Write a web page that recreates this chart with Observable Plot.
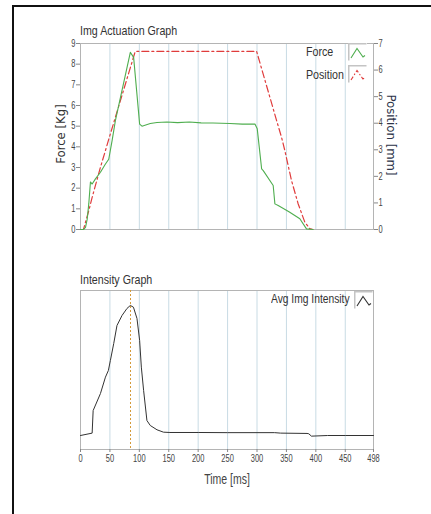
<!DOCTYPE html>
<html>
<head>
<meta charset="utf-8">
<script src="https://cdn.jsdelivr.net/npm/d3@7"></script>
<script src="https://cdn.jsdelivr.net/npm/@observablehq/plot@0.6"></script>
<style>
  html, body { margin: 0; padding: 0; background: #fff; }
  #root { position: relative; width: 431px; height: 514px; overflow: hidden; background: #fff; color: #333; }
  .narrow { position: absolute; white-space: nowrap; font-family: "Liberation Sans", Arial, sans-serif;
    transform-origin: 0 50%; transform: scaleX(0.82); line-height: 14px; }
  .rot { position: absolute; white-space: nowrap; font-family: "DejaVu Sans Condensed", "DejaVu Sans", sans-serif; font-stretch: condensed;
    transform: translate(-50%, -50%) rotate(-90deg); line-height: 14px; }
  .rot90 { position: absolute; white-space: nowrap; font-family: "DejaVu Sans Condensed", "DejaVu Sans", sans-serif; font-stretch: condensed;
    transform: translate(-50%, -50%) rotate(90deg); line-height: 14px; }
  .icon { position: absolute; }
</style>
</head>
<body>
<div id="root"></div>
<script>
// ---- Data ----
const forceT  = [0, 5, 8.5, 11.4, 14.1, 16.9, 19.8, 25.4, 33.9, 42.4, 48, 53.7, 59.3, 84.7, 90.3, 100.5, 104.5, 118.6, 130, 146.9, 165, 185, 205, 225, 254, 275, 296.5, 300.4, 307.9, 310.6, 327.5, 330.4, 336, 355, 372.8, 384.1, 395.3];
const forceKg = [0, 0, 0.1, 0.5, 1.25, 2.3, 2.2, 2.45, 2.77, 3.17, 3.4, 4.3, 5.27, 8.57, 8.33, 5.1, 5.0, 5.13, 5.18, 5.2, 5.17, 5.2, 5.16, 5.15, 5.13, 5.1, 5.1, 4.87, 2.93, 2.85, 2.13, 1.24, 1.16, 0.85, 0.52, 0.03, 0];

const posT  = [0, 5, 14.1, 19.8, 33.9, 50.8, 93, 299.4, 333.3, 341.7, 347.3, 358.7, 369.9, 381.2, 389.7, 394.8];
const posMm = [0, 0, 0.71, 1.21, 2.34, 3.6, 6.7, 6.7, 4.1, 3.47, 2.97, 1.84, 0.97, 0.28, 0.03, 0];

const intT = [0, 19.8, 21.5, 33.9, 42.4, 47.4, 50.8, 56.5, 62, 70.6, 79, 84.7, 90, 96, 100.5, 103.4, 107.3, 112.9, 118.6, 130, 141, 152, 200, 250, 330, 340, 385, 388, 392.5, 420, 450, 498];
const intV = [8.8, 10.3, 24.5, 35.2, 45.5, 49.7, 56, 66.7, 78, 84.3, 88.7, 90.6, 89.5, 82.4, 68.6, 51.8, 37, 18.2, 15.1, 12.4, 10.9, 10.7, 10.7, 10.6, 10.6, 10.3, 10.1, 9.9, 8.4, 8.8, 8.8, 8.8];

const peakMarkerT = [85];

const gridTimes = [50, 100, 150, 200, 250, 300, 350, 400, 450];
const timeTicks = [0, 50, 100, 150, 200, 250, 300, 350, 400, 450, 498];
const forceTicks = [0, 1, 2, 3, 4, 5, 6, 7, 8, 9];
const posTicks = [0, 1, 2, 3, 4, 5, 6, 7];

const titleTop = "Img Actuation Graph";
const titleBottom = "Intensity Graph";
const forceLabel = "Force [Kg]";
const posLabel = "Position [mm]";
const timeLabel = "Time [ms]";
const legendTop = ["Force", "Position"];
const legendBottom = ["Avg Img Intensity"];

// ---- Styles ----
const FONT = '"Liberation Sans", Arial, sans-serif';
const GREEN = "#4fae4f";
const RED = "#e03c3c";
const GRID = "#c8dbe4";
const FRAMEC = "#b4b4b4";
const FMAX = 9, PMAX = 7;

const root = document.getElementById("root");

function addDiv(cls, text, css) {
  const d = document.createElement("div");
  d.className = cls;
  d.textContent = text;
  Object.assign(d.style, css);
  root.appendChild(d);
  return d;
}

// narrow-ify SVG tick labels (Arial Narrow look)
function narrowText(svg, s) {
  svg.querySelectorAll('g[aria-label$="tick label"] text, g[aria-label$="-axis label"] text').forEach(t => {
    const x = +(t.getAttribute("x") || 0);
    const tr = t.getAttribute("transform") || "";
    t.setAttribute("transform", `${tr} translate(${x},0) scale(${s},1) translate(${-x},0)`);
  });
}

// outer black border
const border = document.createElement("div");
Object.assign(border.style, {position: "absolute", left: "12px", top: "5px", width: "440px", height: "540px", border: "2px solid #111", boxSizing: "border-box"});
root.appendChild(border);

// ---- Top chart ----
const forceData = forceT.map((t, i) => ({t, v: forceKg[i]}));
const posData = posT.map((t, i) => ({t, v: posMm[i] * FMAX / PMAX}));

const chartTop = Plot.plot({
  width: 431, height: 250,
  marginLeft: 80, marginRight: 58, marginTop: 43, marginBottom: 21,
  style: {fontFamily: FONT, fontSize: "10px", color: "#444", background: "transparent"},
  x: {domain: [0, 498], axis: null},
  y: {domain: [0, FMAX], axis: null},
  marks: [
    Plot.ruleX(gridTimes, {stroke: GRID, strokeWidth: 1}),
    Plot.frame({stroke: FRAMEC}),
    Plot.axisY(forceTicks, {anchor: "left", tickSize: 4, tickPadding: 1, tickFormat: d => d, label: null, stroke: "#888"}),
    Plot.axisY(posTicks.map(p => p * FMAX / PMAX), {anchor: "right", tickSize: 4, tickPadding: 1, tickFormat: d => Math.round(d * PMAX / FMAX), label: null, stroke: "#888"}),
    Plot.line(posData, {x: "t", y: "v", stroke: RED, strokeWidth: 1.2, strokeDasharray: "7,3,2,3"}),
    Plot.line(forceData, {x: "t", y: "v", stroke: GREEN, strokeWidth: 1.1})
  ]
});
Object.assign(chartTop.style, {position: "absolute", left: "0px", top: "0px"});
narrowText(chartTop, 0.75);
root.appendChild(chartTop);

// ---- Bottom chart ----
const intData = intT.map((t, i) => ({t, v: intV[i]}));
const chartBottom = Plot.plot({
  width: 431, height: 250,
  marginLeft: 80, marginRight: 58, marginTop: 40, marginBottom: 51,
  style: {fontFamily: FONT, fontSize: "10px", color: "#444", background: "transparent"},
  x: {domain: [0, 498], axis: null},
  y: {domain: [0, 100], axis: null},
  marks: [
    Plot.ruleX(gridTimes, {stroke: GRID, strokeWidth: 1}),
    Plot.frame({stroke: FRAMEC}),
    Plot.axisX(timeTicks, {anchor: "bottom", tickSize: 3, tickPadding: 2, tickFormat: d => d, label: timeLabel, labelAnchor: "center", labelArrow: "none", labelOffset: 34, stroke: "#888"}),
    Plot.ruleX(peakMarkerT, {stroke: "#d49a3a", strokeWidth: 1, strokeDasharray: "2,2"}),
    Plot.line(intData, {x: "t", y: "v", stroke: "#333", strokeWidth: 1})
  ]
});
Object.assign(chartBottom.style, {position: "absolute", left: "0px", top: "250px"});
chartBottom.querySelectorAll("text").forEach(t => { if (t.textContent === timeLabel) t.setAttribute("font-size", "14px"); });
narrowText(chartBottom, 0.75);
root.appendChild(chartBottom);

// ---- Titles / labels ----
addDiv("narrow", titleTop, {left: "80px", top: "24px", fontSize: "13px"});
addDiv("narrow", titleBottom, {left: "80px", top: "273px", fontSize: "13px"});
addDiv("rot", forceLabel, {left: "61px", top: "134px", fontSize: "13px"});
addDiv("rot90", posLabel, {left: "391px", top: "135px", fontSize: "13px", color: "#2c3348"});

// ---- Legends ----
function icon(stroke, dash, left, topPx) {
  const d = document.createElement("div");
  d.className = "icon";
  Object.assign(d.style, {left: left + "px", top: topPx + "px"});
  d.innerHTML = `<svg width="19" height="18" viewBox="0 0 19 18"><rect x="0" y="0" width="19" height="18" fill="#fff"/>
  <path d="M0.75 17.5 V0.75 H18.5" fill="none" stroke="#c4c4c4" stroke-width="1.5"/>
  <path d="M3 15 L9 5.5 L15 14 L17 12.5" fill="none" stroke="${stroke}" stroke-width="1.1" ${dash ? `stroke-dasharray="${dash}"` : ""}/></svg>`;
  root.appendChild(d);
}
addDiv("narrow", legendTop[0], {left: "306px", top: "45px", fontSize: "13px"});
icon(GREEN, null, 348, 43);
addDiv("narrow", legendTop[1], {left: "306px", top: "68px", fontSize: "13px"});
icon(RED, "4,2,1.5,2", 348, 65);
addDiv("narrow", legendBottom[0], {left: "271px", top: "292px", fontSize: "13px", transform: "scaleX(0.79)"});
icon("#333", null, 354, 291);
</script>
</body>
</html>
